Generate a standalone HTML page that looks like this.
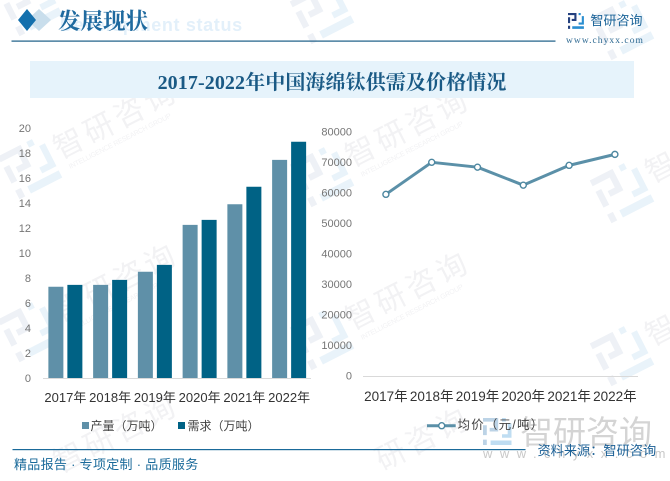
<!DOCTYPE html>
<html lang="zh">
<head>
<meta charset="utf-8">
<title>2017-2022年中国海绵钛供需及价格情况</title>
<style>
html,body{margin:0;padding:0;background:#fff;}
body{width:670px;height:481px;overflow:hidden;}
svg{display:block;}
text{font-family:"Liberation Sans","Noto Sans CJK SC",sans-serif;}
.serif{font-family:"Liberation Serif","Noto Serif CJK SC",serif;}
</style>
</head>
<body>
<svg id="page" xmlns="http://www.w3.org/2000/svg" width="670" height="481" viewBox="0 0 670 481">
  <rect x="0" y="0" width="670" height="481" fill="#ffffff"/>
  <g id="watermarks"></g>

  <text x="60" y="31" font-size="18" font-weight="700" fill="#e3f0fa" style="letter-spacing:.65px">Development status</text>
  <polygon points="39,9 51,20 39,31 27,20" fill="#c9deec"/>
  <polygon points="27,9 36,20 27,31 18,20" fill="#1470ad"/>
  <text class="serif" x="58" y="29" font-size="22.5" font-weight="700" fill="#1f6a9f">发展现状</text>
  <rect x="11.5" y="40.5" width="544" height="1.2" fill="#1a5c85"/>

  <g transform="translate(568,13) scale(.53)">
    <path d="M0 0H16V15H7V11H12V4H0Z M0 8H4V19H0Z M0 24H4V30H0Z" fill="#24407e"/>
    <path d="M20 0H24V4H20Z M26 6H30V22H20V18H26Z M8 25H30V30H8Z" fill="#2a8ed0"/>
  </g>
  <text x="590.5" y="25" font-size="13" fill="#1a6398">智研咨询</text>
  <text class="serif" x="566" y="43" font-size="9.5" fill="#2f6a92" style="letter-spacing:1.05px">www.chyxx.com</text>

  <rect x="30" y="61" width="604" height="37" fill="#e6f3fb"/>
  <text class="serif" x="332" y="89" text-anchor="middle" font-size="20" font-weight="700" fill="#1a5a85" style="letter-spacing:.1px">2017-2022年中国海绵钛供需及价格情况</text>

  <g id="left-chart"></g>
  <g id="right-chart"></g>

  <g>
    <rect x="82" y="422" width="7" height="7" fill="#5f90a8"/>
    <text x="90.5" y="430" font-size="12" fill="#444444">产量（万吨）</text>
  </g>
  <g>
    <rect x="178" y="422" width="7" height="7" fill="#006285"/>
    <text x="187.5" y="430" font-size="12" fill="#444444">需求（万吨）</text>
  </g>

  <g>
    <g transform="translate(483,418) scale(.95,.9)">
      <path d="M0 0H16V15H7V11H12V4H0Z M0 8H4V19H0Z M0 24H4V30H0Z" fill="#bcd3e6"/>
      <path d="M20 0H24V4H20Z M26 6H30V22H20V18H26Z M8 25H30V30H8Z" fill="#bfddf2"/>
    </g>
    <text x="520" y="444" font-size="33" fill="#d4d4d4">智研咨询</text>
    <text x="483" y="458" font-size="13" fill="#c8c8c8" style="letter-spacing:7.5px">www.chyxx.com</text>
  </g>

  <g>
    <line x1="427" y1="425.7" x2="455.7" y2="425.7" stroke="#5b90a8" stroke-width="3"/>
    <circle cx="441.7" cy="425.7" r="3" fill="#ffffff" stroke="#4d87a0" stroke-width="1.4"/>
    <text x="457.5" y="429" font-size="12.5" fill="#444444" style="letter-spacing:1.2px">均价（元/吨）</text>
  </g>

  <rect x="12.5" y="449" width="513" height="1.2" fill="#1a6a9a"/>
  <text x="14" y="469" font-size="13" fill="#1a6a9a" style="letter-spacing:.3px" xml:space="preserve">精品报告 · 专项定制 · 品质服务</text>
  <text x="537.5" y="455" font-size="13.2" fill="#1a5f95">资料来源：智研咨询</text>
</svg>
<script>
var years = ['2017年','2018年','2019年','2020年','2021年','2022年'];
var productionValues = [7.3, 7.45, 8.5, 12.25, 13.9, 17.45];
var demandValues = [7.45, 7.85, 9.05, 12.65, 15.3, 18.9];
var priceValues = [59400, 69900, 68300, 62400, 68900, 72500];
var leftTicks = [0, 2, 4, 6, 8, 10, 12, 14, 16, 18, 20];
var rightTicks = [0, 10000, 20000, 30000, 40000, 50000, 60000, 70000, 80000];

var NS = 'http://www.w3.org/2000/svg';
function mk(parent, tag, attrs, txt) {
  var el = document.createElementNS(NS, tag);
  for (var k in attrs) { el.setAttribute(k, attrs[k]); }
  if (txt !== undefined) { el.textContent = txt; }
  parent.appendChild(el);
  return el;
}

/* left chart scales */
function leftY(v) { return 378 - (v - 0) * 12.5; }
function leftBand(i) { return 43 + 44.75 * (i + 0.5); }
/* right chart scales */
function rightY(v) { return 375.5 - v * 0.00305; }
function rightBand(i) { return 363 + 45.8 * (i + 0.5); }

var left = document.getElementById('left-chart');
leftTicks.forEach(function (t) {
  var el = mk(left, 'text', {x: 31, y: leftY(t) + 4, 'text-anchor': 'end', 'font-size': 11, fill: '#757575'}, String(t));
  
  
});
years.forEach(function (y, i) {
  var cx = leftBand(i);
  var b1 = mk(left, 'rect', {x: cx - 17, y: leftY(productionValues[i]), width: 15, height: leftY(0) - leftY(productionValues[i]), fill: '#5f90a8'});
  
  
  var b2 = mk(left, 'rect', {x: cx + 2, y: leftY(demandValues[i]), width: 15, height: leftY(0) - leftY(demandValues[i]), fill: '#006285'});
  
  
  var lab = mk(left, 'text', {x: cx, y: 402, 'text-anchor': 'middle', 'font-size': 13, fill: '#333333'}, y);
  
  
});
var leftAxis = mk(left, 'line', {x1: 43, y1: leftY(0) + .5, x2: 311, y2: leftY(0) + .5, stroke: '#d9d9d9', 'stroke-width': 1});



var right = document.getElementById('right-chart');
rightTicks.forEach(function (t) {
  var el = mk(right, 'text', {x: 352, y: rightY(t) + 4, 'text-anchor': 'end', 'font-size': 11, fill: '#757575'}, String(t));
  
  
});
var rightAxis = mk(right, 'line', {x1: 363, y1: 376.5, x2: 638, y2: 376.5, stroke: '#d9d9d9', 'stroke-width': 1});


years.forEach(function (y, i) {
  var lab = mk(right, 'text', {x: rightBand(i), y: 401, 'text-anchor': 'middle', 'font-size': 13.5, fill: '#333333'}, y);
  
  
});
var pts = priceValues.map(function (v, i) { return rightBand(i) + ',' + rightY(v); }).join(' ');
var line = mk(right, 'polyline', {points: pts, fill: 'none', stroke: '#5b90a8', 'stroke-width': 3, 'stroke-linejoin': 'round'});


priceValues.forEach(function (v, i) {
  var c = mk(right, 'circle', {cx: rightBand(i), cy: rightY(v), r: 3, fill: '#ffffff', stroke: '#4d87a0', 'stroke-width': 1.4});
  
  
});

/* background watermark tiles: centre, then which parts fit inside the frame */
var wmRoot = document.getElementById('watermarks');
[
  {x: 30, y: 4, logo: true, name: '', start: 30, sub: false},
  {x: 30, y: 167, logo: true, name: '智研咨询', start: 30, sub: true},
  {x: 30, y: 330, logo: true, name: '智研咨询', start: 30, sub: true},
  {x: 30, y: 481, logo: false, name: '智研咨询', start: 30, sub: false},
  {x: 322, y: 12, logo: true, name: '', start: 30, sub: false},
  {x: 322, y: 175, logo: true, name: '智研咨询', start: 30, sub: true},
  {x: 322, y: 338, logo: true, name: '智研咨询', start: 30, sub: true},
  {x: 322, y: 494, logo: false, name: '研咨询', start: 64, sub: false},
  {x: 622, y: 28, logo: true, name: '', start: 30, sub: false},
  {x: 622, y: 191, logo: true, name: '智', start: 30, sub: false},
  {x: 622, y: 354, logo: true, name: '智', start: 30, sub: false}
].forEach(function (p) {
  var g = mk(wmRoot, 'g', {transform: 'translate(' + p.x + ',' + p.y + ') rotate(-27)'});
  
  
  if (p.logo) {
    var logo = mk(g, 'g', {transform: 'scale(1.6) translate(-15,-15)'});
    
    
    mk(logo, 'path', {d: 'M0 0H16V15H7V11H12V4H0Z M0 8H4V19H0Z M0 24H4V30H0Z', fill: '#eef1f6'});
    mk(logo, 'path', {d: 'M20 0H24V4H20Z M26 6H30V22H20V18H26Z M8 25H30V30H8Z', fill: '#e9f3fa'});
  }
  if (p.name) {
    var t1 = mk(g, 'text', {x: p.start, y: 7, 'font-size': 30, fill: '#f2f2f4', style: 'letter-spacing:4px'}, p.name);
    
    
  }
  if (p.sub) {
    var t2 = mk(g, 'text', {x: 35, y: 20, 'font-size': 7, fill: '#f2f2f4', textLength: 114}, 'INTELLIGENCE RESEARCH GROUP');
    
    
  }
});
</script>
</body>
</html>
